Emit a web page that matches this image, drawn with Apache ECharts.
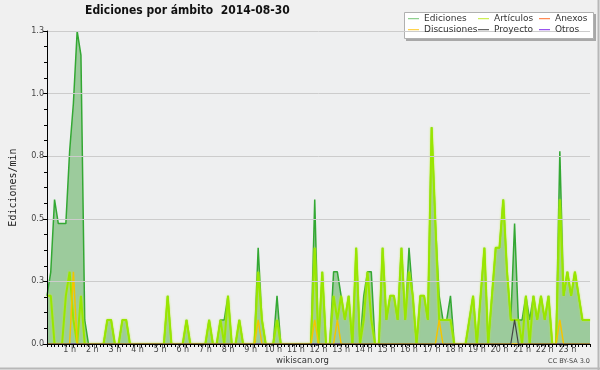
<!DOCTYPE html>
<html>
<head>
<meta charset="utf-8">
<script src="https://cdn.jsdelivr.net/npm/echarts@6/dist/echarts.min.js"></script>
<style>html,body{margin:0;padding:0;background:#f0f0f0;}#c{width:600px;height:370px;}</style>
</head>
<body>
<div id="c"></div>
<script>
// 10-minute bins, 6 per hour, one row = 2 hours; last value is 24 h
const ediciones = [
  0.2,0.3,0.6,0.5,0.5,0.5, 0.8,1.0,1.3,1.2,0.1,0,
  0,0,0,0,0.1,0.1, 0,0,0.1,0.1,0,0,
  0,0,0,0,0,0, 0,0,0.2,0,0,0,
  0,0.1,0,0,0,0, 0,0.1,0,0,0.1,0.1,
  0.2,0,0,0.1,0,0, 0,0,0.4,0.1,0,0,
  0,0.2,0,0,0,0, 0,0,0,0,0,0.6,
  0,0.3,0,0,0.3,0.3, 0.2,0.1,0.2,0,0.4,0,
  0.2,0.3,0.3,0,0,0.4, 0.1,0.2,0.2,0.1,0.4,0.1,
  0.4,0.2,0,0.2,0.2,0.1, 0.9,0.5,0.2,0.1,0.1,0.2,
  0,0,0,0,0.1,0.2, 0,0.2,0.4,0,0.2,0.4,
  0.4,0.6,0.3,0.1,0.5,0.1, 0.1,0.2,0.1,0.2,0.1,0.2,
  0.1,0.2,0,0,0.8,0.2, 0.3,0.2,0.3,0.2,0.1,0.1,
  0.1
];
const articulos = [
  0.2,0.2,0,0,0,0.2, 0.3,0.1,0,0.2,0,0,
  0,0,0,0,0.1,0.1, 0,0,0.1,0.1,0,0,
  0,0,0,0,0,0, 0,0,0.2,0,0,0,
  0,0.1,0,0,0,0, 0,0.1,0,0,0.1,0,
  0.2,0,0,0.1,0,0, 0,0,0.3,0.1,0,0,
  0,0.1,0,0,0,0, 0,0,0,0,0,0.4,
  0,0.3,0,0,0.2,0.1, 0.2,0.1,0.2,0,0.4,0,
  0.1,0.3,0.1,0,0,0.4, 0.1,0.2,0.2,0.1,0.4,0.1,
  0.3,0.2,0,0.2,0.2,0.1, 0.9,0.5,0.1,0.1,0.1,0.1,
  0,0,0,0,0.1,0.2, 0,0.2,0.4,0,0.2,0.4,
  0.4,0.6,0.3,0.1,0.1,0.1, 0,0.2,0,0.2,0.1,0.2,
  0.1,0.2,0,0,0.6,0.2, 0.3,0.2,0.3,0.2,0.1,0.1,
  0.1
];
const discusiones = [
  0,0,0,0,0,0, 0,0.3,0,0,0,0,
  0,0,0,0,0,0, 0,0,0,0,0,0,
  0,0,0,0,0,0, 0,0,0,0,0,0,
  0,0,0,0,0,0, 0,0,0,0,0,0,
  0,0,0,0,0,0, 0,0,0.1,0,0,0,
  0,0,0,0,0,0, 0,0,0,0,0,0.1,
  0,0,0,0,0,0.1, 0,0,0,0,0,0,
  0,0,0,0,0,0, 0,0,0,0,0,0,
  0,0,0,0,0,0, 0,0,0.1,0,0,0,
  0,0,0,0,0,0, 0,0,0,0,0,0,
  0,0,0,0,0,0, 0,0,0,0,0,0,
  0,0,0,0,0.1,0, 0,0,0,0,0,0,
  0
];
const proyecto = [
  0,0,0,0,0,0, 0,0,0,0,0,0,
  0,0,0,0,0,0, 0,0,0,0,0,0,
  0,0,0,0,0,0, 0,0,0,0,0,0,
  0,0,0,0,0,0, 0,0,0,0,0,0,
  0,0,0,0,0,0, 0,0,0,0,0,0,
  0,0,0,0,0,0, 0,0,0,0,0,0,
  0,0,0,0,0,0, 0,0,0,0,0,0,
  0,0,0,0,0,0, 0,0,0,0,0,0,
  0,0,0,0,0,0, 0,0,0,0,0,0,
  0,0,0,0,0,0, 0,0,0,0,0,0,
  0,0,0,0,0.1,0, 0,0,0,0,0,0,
  0,0,0,0,0,0, 0,0,0,0,0,0,
  0
];
const anexos = [
  0,0,0,0,0,0, 0,0,0,0,0,0,
  0,0,0,0,0,0, 0,0,0,0,0,0,
  0,0,0,0,0,0, 0,0,0,0,0,0,
  0,0,0,0,0,0, 0,0,0,0,0,0,
  0,0,0,0,0,0, 0,0,0,0,0,0,
  0,0,0,0,0,0, 0,0,0,0,0,0,
  0,0,0,0,0,0, 0,0,0,0,0,0,
  0,0,0,0,0,0, 0,0,0,0,0,0,
  0,0,0,0,0,0, 0,0,0,0,0,0,
  0,0,0,0,0,0, 0,0,0,0,0,0,
  0,0,0,0,0,0, 0,0,0,0,0,0,
  0,0,0,0,0,0, 0,0,0,0,0,0,
  0
];
const otros = anexos.slice();
const binsPerHour = 6;
const titleText = 'Ediciones por ámbito  2014-08-30';
const yAxisName = 'Ediciones/min';

const toXY = arr => arr.map((v, i) => [i / binsPerHour, v]);
const FONT = 'DejaVu Sans';
const LINE_ICON = 'path://M0,0L0.01,0M0,5L11,5L11,6.2L0,6.2ZM0,11L0.01,11';

const chart = echarts.init(document.getElementById('c'), null, {renderer: 'canvas'});
const legendBase = {
  orient: 'vertical', top: 13, itemWidth: 11, itemHeight: 11, itemGap: 0, icon: LINE_ICON,
  padding: 0, selectedMode: false, z: 20,
  textStyle: {fontFamily: FONT, fontSize: 9, color: '#333'}
};
chart.setOption({
  animation: false,
  backgroundColor: '#f0f0f0',
  title: {
    text: titleText, left: 85, top: 5, padding: 0,
    textStyle: {fontFamily: "'DejaVu Sans Condensed'", fontSize: 12, fontWeight: 'bold', color: '#111'}
  },
  legend: [
    Object.assign({}, legendBase, {left: 408, data: [
      {name: 'Ediciones', itemStyle: {color: '#8fd08f', borderWidth: 0}},
      {name: 'Discusiones', itemStyle: {color: '#ffd34d', borderWidth: 0}}]}),
    Object.assign({}, legendBase, {left: 478, data: [
      {name: 'Artículos', itemStyle: {color: '#cdee55', borderWidth: 0}},
      {name: 'Proyecto', itemStyle: {color: '#666666', borderWidth: 0}}]}),
    Object.assign({}, legendBase, {left: 539, data: [
      {name: 'Anexos', itemStyle: {color: '#ff8a55', borderWidth: 0}},
      {name: 'Otros', itemStyle: {color: '#9955ee', borderWidth: 0}}]})
  ],
  grid: {left: 46, right: 10, top: 31, bottom: 26, show: true, backgroundColor: '#eeeff0', borderWidth: 0},
  xAxis: {
    type: 'value', min: 0, max: 24, interval: 1, z: 10,
    axisLine: {lineStyle: {color: '#000', width: 1}},
    axisTick: {show: true, length: 3, lineStyle: {color: '#000'}},
    minorTick: {show: true, splitNumber: 6, length: 3, lineStyle: {color: '#000'}},
    splitLine: {show: false},
    axisLabel: {margin: 2, fontFamily: FONT, fontSize: 8, color: '#444',
      formatter: v => (v > 0 && v < 24) ? v + ' h' : ''}
  },
  yAxis: {
    type: 'value', min: 0, max: 1.3, interval: 0.26, z: 10,
    name: yAxisName, nameLocation: 'middle', nameRotate: 90, nameGap: 29,
    nameTextStyle: {fontFamily: 'DejaVu Sans Mono', fontSize: 10, color: '#222'},
    axisLine: {show: true, lineStyle: {color: '#000', width: 1}},
    axisTick: {show: true, length: 4, lineStyle: {color: '#000'}},
    minorTick: {show: true, splitNumber: 4, length: 3, lineStyle: {color: '#000'}},
    splitLine: {show: true, lineStyle: {color: '#cccccc', width: 1}},
    axisLabel: {margin: 3, fontFamily: FONT, fontSize: 8, color: '#444',
      formatter: v => v.toFixed(1)}
  },
  series: [
    {name: 'Ediciones', type: 'line', data: toXY(ediciones), showSymbol: false, symbol: 'none',
      color: '#33a833', lineStyle: {color: '#33a833', width: 1.5},
      areaStyle: {color: '#9ccb9c', opacity: 1}, z: 2},
    {name: 'Artículos', type: 'line', data: toXY(articulos), showSymbol: false, symbol: 'none',
      color: '#99e600', lineStyle: {color: '#99e600', width: 2, shadowColor: 'rgba(190,240,60,0.9)', shadowBlur: 2}, z: 3},
    {name: 'Anexos', type: 'line', data: toXY(anexos), showSymbol: false, symbol: 'none',
      color: '#ff7733', lineStyle: {color: '#ff7733', width: 1.2}, z: 3},
    {name: 'Discusiones', type: 'line', data: toXY(discusiones), showSymbol: false, symbol: 'none',
      color: '#f5c400', lineStyle: {color: '#f5c400', width: 1.5}, z: 4},
    {name: 'Proyecto', type: 'line', data: toXY(proyecto), showSymbol: false, symbol: 'none',
      color: '#444444', lineStyle: {color: '#444444', width: 1.2}, z: 4},
    {name: 'Otros', type: 'line', data: toXY(otros), showSymbol: false, symbol: 'none',
      color: '#8844ee', lineStyle: {color: '#8844ee', width: 1.2}, z: 3}
  ],
  graphic: [
    {type: 'rect', shape: {x: 406, y: 14, width: 190, height: 27}, style: {fill: '#a8a8a8'}, z: 1},
    {type: 'rect', shape: {x: 404.5, y: 12.5, width: 189, height: 26}, style: {fill: '#ffffff', stroke: '#b0b0b0', lineWidth: 1}, z: 2},
    {type: 'text', left: 276, top: 356, style: {text: 'wikiscan.org', fontFamily: FONT, fontSize: 8.5, fill: '#333'}},
    {type: 'text', right: 10, top: 358, style: {text: 'CC BY-SA 3.0', fontFamily: FONT, fontSize: 6.5, fill: '#444'}},
    {type: 'line', shape: {x1: 598.5, y1: 0, x2: 598.5, y2: 370}, style: {stroke: '#b8b8b8', lineWidth: 2}},
    {type: 'line', shape: {x1: 0, y1: 368.5, x2: 600, y2: 368.5}, style: {stroke: '#b8b8b8', lineWidth: 2}}
  ]
});
</script>
</body>
</html>
